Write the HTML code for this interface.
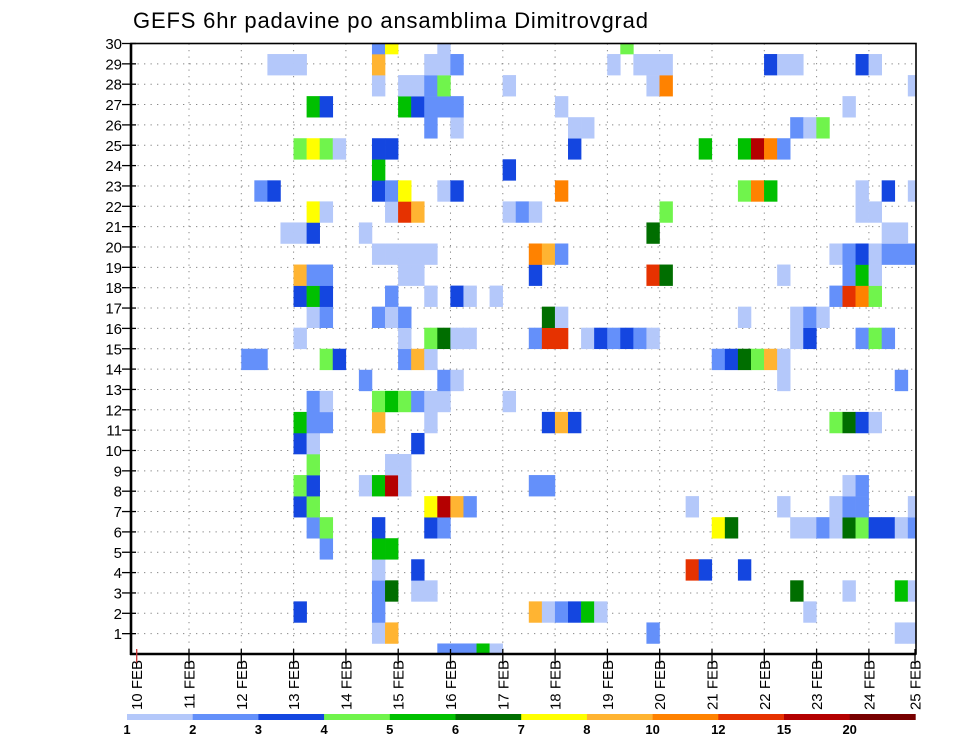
<!DOCTYPE html>
<html><head><meta charset="utf-8"><title>GEFS 6hr padavine</title>
<style>
html,body{margin:0;padding:0;background:#fff;}
svg{display:block;font-family:"Liberation Sans",sans-serif;}
</style></head>
<body>
<svg id="chart" width="960" height="742" viewBox="0 0 960 742" xmlns="http://www.w3.org/2000/svg">
<defs><clipPath id="plotclip"><rect x="131" y="43.5" width="785" height="610.5"/></clipPath></defs>
<text x="133" y="28" font-size="22" textLength="515" fill="#000">GEFS 6hr padavine po ansamblima Dimitrovgrad</text>
<g id="grid"></g>
<g id="cells" clip-path="url(#plotclip)"></g>
<g id="axes"></g>
<g id="colorbar"></g>
</svg>
<script>
const dayLabels = ["10 FEB","11 FEB","12 FEB","13 FEB","14 FEB","15 FEB","16 FEB","17 FEB","18 FEB","19 FEB","20 FEB","21 FEB","22 FEB","23 FEB","24 FEB","25 FEB"];
const memberTicks = [1,2,3,4,5,6,7,8,9,10,11,12,13,14,15,16,17,18,19,20,21,22,23,24,25,26,27,28,29,30];
const levelBounds = [1,2,3,4,5,6,7,8,10,12,15,20];
const levelColors = ["#b4c8fa","#6490fa","#1446e0","#70f44c","#00c000","#006e00","#ffff00","#ffb432","#ff8200","#e63200","#b40000","#780000"];
// steps (6-hour index from 10 FEB 00Z) and precip per ensemble member (index 0..29)
const memberSteps = [
 [23,24,25,26,27],
 [18,19,39,58,59],
 [12,18,30,31,32,33,34,35,51],
 [18,19,21,22,50,54,58,59],
 [18,21,42,43,46],
 [14,18,19],
 [13,14,18,22,23,44,45,50,51,52,53,54,55,56,57,58,59],
 [12,13,22,23,24,25,42,49,53,54,55,59],
 [12,13,17,18,19,20,30,31,54,55],
 [13,19,20],
 [12,13,21],
 [12,13,14,18,22,31,32,33,53,54,55,56],
 [13,14,18,19,20,21,22,23,28],
 [17,23,24,49,58],
 [8,9,14,15,20,21,22,44,45,46,47,48,49],
 [12,20,22,23,24,25,30,31,32,34,35,36,37,38,39,50,51,55,56,57],
 [13,14,18,19,20,31,32,46,50,51,52],
 [12,13,14,19,22,24,25,27,53,54,55,56],
 [12,13,14,20,21,30,39,40,49,54,55,56],
 [18,19,20,21,22,30,31,32,53,54,55,56,57,58,59],
 [11,12,13,17,39,57,58],
 [13,14,19,20,21,28,29,30,40,55,56],
 [9,10,18,19,20,23,24,32,46,47,48,55,57,59],
 [18,28],
 [12,13,14,15,18,19,33,43,46,47,48,49],
 [22,24,33,34,50,51,52],
 [13,14,20,21,22,23,24,32,54],
 [18,20,21,22,23,28,39,40,59],
 [10,11,12,18,22,23,24,36,38,39,40,48,49,50,55,56],
 [18,19,23,37]
];
const memberPrecip = [
 [2.5,2.5,2.5,5.5,1.5],
 [1.5,9,2.5,1.5,1.5],
 [3.5,2.5,9,1.5,2.5,3.5,5.5,1.5,1.5],
 [2.5,6.5,1.5,1.5,6.5,1.5,5.5,1.5],
 [1.5,3.5,13.5,3.5,3.5],
 [2.5,5.5,5.5],
 [2.5,4.5,3.5,3.5,2.5,7.5,6.5,1.5,1.5,2.5,1.5,6.5,4.5,3.5,3.5,1.5,2.5],
 [3.5,4.5,7.5,17,9,2.5,1.5,1.5,1.5,2.5,2.5,1.5],
 [4.5,3.5,1.5,5.5,17,1.5,2.5,2.5,1.5,2.5],
 [4.5,1.5,1.5],
 [3.5,1.5,3.5],
 [5.5,2.5,2.5,9,1.5,3.5,9,3.5,4.5,6.5,3.5,1.5],
 [2.5,1.5,4.5,5.5,4.5,2.5,1.5,1.5,1.5],
 [2.5,2.5,1.5,1.5,2.5],
 [2.5,2.5,4.5,3.5,2.5,9,1.5,2.5,3.5,6.5,4.5,9,1.5],
 [1.5,1.5,4.5,6.5,1.5,1.5,2.5,13.5,13.5,1.5,3.5,2.5,3.5,2.5,1.5,1.5,3.5,2.5,4.5,2.5],
 [1.5,2.5,2.5,1.5,2.5,6.5,1.5,1.5,1.5,2.5,1.5],
 [3.5,5.5,3.5,2.5,1.5,3.5,1.5,1.5,2.5,13.5,11,4.5],
 [9,2.5,2.5,1.5,1.5,3.5,13.5,6.5,1.5,2.5,5.5,1.5],
 [1.5,1.5,1.5,1.5,1.5,11,9,2.5,1.5,2.5,3.5,1.5,2.5,2.5,2.5],
 [1.5,1.5,3.5,1.5,6.5,1.5,1.5],
 [7.5,1.5,1.5,13.5,9,1.5,2.5,1.5,4.5,1.5,1.5],
 [2.5,3.5,3.5,2.5,7.5,1.5,3.5,11,4.5,11,5.5,1.5,3.5,1.5],
 [5.5,3.5],
 [4.5,7.5,4.5,1.5,3.5,3.5,3.5,5.5,5.5,17,11,2.5],
 [2.5,1.5,1.5,1.5,2.5,1.5,4.5],
 [5.5,3.5,5.5,3.5,2.5,2.5,2.5,1.5,1.5],
 [1.5,1.5,1.5,2.5,4.5,1.5,1.5,11,1.5],
 [1.5,1.5,1.5,9,1.5,1.5,2.5,1.5,1.5,1.5,1.5,3.5,1.5,1.5,3.5,1.5],
 [2.5,7.5,1.5,4.5]
];

const NS = "http://www.w3.org/2000/svg";
const PL = 131, PR = 916, PT = 43.5, PB = 654;
const X0 = 136.7, STEP_W = 13.07, DAY_W = 52.3;
function xStep(s){ return X0 + s*STEP_W; }
function xDay(d){ return Math.min(X0 + d*DAY_W, PR - 1); }
function yMember(m){ return PB - m*((PB-PT)/29); }
const CELL_H = (PB-PT)/29;
function yTick(k){ return PB - k*((PB-PT)/30); }
function colorFor(v){
  let idx = 0;
  for (let i=0;i<levelBounds.length;i++){ if (v >= levelBounds[i]) idx = i; }
  return levelColors[idx];
}
function mk(tag, attrs, parent){
  const el = document.createElementNS(NS, tag);
  for (const k in attrs) el.setAttribute(k, attrs[k]);
  parent.appendChild(el);
  return el;
}
const grid = document.getElementById('grid');
const cells = document.getElementById('cells');
const axes = document.getElementById('axes');
const cbar = document.getElementById('colorbar');

// grid
for (let k=1;k<30;k++){
  const l = mk('line',{x1:PL,x2:PR,y1:yTick(k),y2:yTick(k),stroke:'#888','stroke-width':1,'stroke-dasharray':'1.3,5.2'},grid);
  
  
}
for (let d=1;d<dayLabels.length-1;d++){
  const l = mk('line',{x1:xDay(d),x2:xDay(d),y1:PT,y2:PB,stroke:'#888','stroke-width':1,'stroke-dasharray':'1.3,5.2'},grid);
  
  
}

// cells
for (let m=0;m<memberSteps.length;m++){
  const steps = memberSteps[m], vals = memberPrecip[m];
  for (let i=0;i<steps.length;i++){
    const r = mk('rect',{x:xStep(steps[i]),y:yMember(m)-CELL_H/2,width:STEP_W+0.3,height:CELL_H+0.3,fill:colorFor(vals[i])},cells);
    
    
  }
}

// frame
const frame = mk('rect',{x:PL,y:PT,width:PR-PL,height:PB-PT,fill:'none',stroke:'#000','stroke-width':1.6},axes);


mk('line',{x1:PL,x2:PL,y1:PT,y2:PB+1,stroke:'#000','stroke-width':2.6},axes);
mk('line',{x1:PL-1,x2:PR,y1:PB,y2:PB,stroke:'#000','stroke-width':2.6},axes);

// y ticks & labels
for (let i=0;i<memberTicks.length;i++){
  const k = memberTicks[i], y = yTick(k);
  mk('line',{x1:PL-9,x2:PL+5,y1:y,y2:y,stroke:'#000','stroke-width':1.3},axes);
  const t = mk('text',{x:PL-9,y:y+5.5,'text-anchor':'end','font-size':15,fill:'#000'},axes);
  t.textContent = k;
  
  
}
// x ticks & labels
for (let d=0;d<dayLabels.length;d++){
  const x = xDay(d);
  mk('line',{x1:x,x2:x,y1:PB-5,y2:PB+9,stroke:d===0?'#c33':'#000','stroke-width':1.3},axes);
  const t = mk('text',{x:0,y:0,'text-anchor':'end','font-size':15,fill:'#000',transform:'translate('+(x+5.5)+','+(PB+6)+') rotate(-90)'},axes);
  t.textContent = dayLabels[d];
  
  
}

// colorbar
const CB_X = 127, CB_W = 65.7, CB_Y = 714, CB_H = 6;
for (let i=0;i<levelColors.length;i++){
  const r = mk('rect',{x:CB_X+i*CB_W,y:CB_Y,width:CB_W+0.3,height:CB_H,fill:levelColors[i]},cbar);
  
  
  const t = mk('text',{x:CB_X+i*CB_W,y:734,'text-anchor':'middle','font-size':13,'font-weight':'bold',fill:'#000'},cbar);
  t.textContent = levelBounds[i];
  
  
}
</script>
</body></html>
